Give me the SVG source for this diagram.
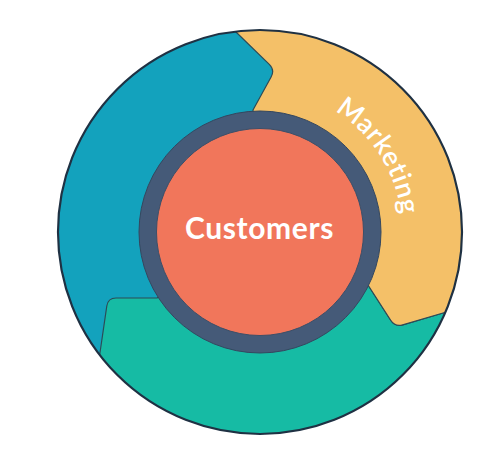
<svg xmlns="http://www.w3.org/2000/svg" width="500" height="460" viewBox="0 0 500 460">
  <style>
    .seg { stroke: #2d4b57; stroke-width: 1.2; stroke-linejoin: round; }
    .lbl { font-family: Lato, "Open Sans", "Liberation Sans", sans-serif; fill: #ffffff; }
  </style>
  <defs>
    <clipPath id="outerClip">
      <circle cx="260" cy="232" r="202"/>
    </clipPath>
    <path id="mkArc" d="M308.6,98.6 A141,141 0 0 1 401.5,243.6" fill="none"/>
  </defs>
  <rect x="0" y="0" width="500" height="460" fill="#ffffff"/>
  <g id="wheel" clip-path="url(#outerClip)">
    <g id="blue-segment">
      <circle cx="260" cy="232" r="202" fill="#13a2bd"/>
    </g>
    <g id="green-segment">
      <path class="seg" fill="#16bba4" d="M96,380 L106.8,306 Q108,298 116,298 L157,298 L260,232 L368,285 L390.7,320.3 Q395,327 402.7,324.8 L443,313 L480,302 L500,460 L0,460 Z"/>
    </g>
    <g id="yellow-segment">
      <path class="seg" fill="#f4c068" d="M217,14 L500,-10 L500,300 L480,302 L443,313 L402.7,324.8 Q395,327 390.7,320.3 L368,285 L260,232 L253,110 L271.1,77 Q275,70 269.3,64.4 L237,33 Z"/>
      <text class="lbl" font-size="27" font-weight="600" letter-spacing="0.6"><textPath href="#mkArc" startOffset="50%" text-anchor="middle">Marketing</textPath></text>
    </g>
  </g>
  <g id="outer-ring">
    <circle cx="260" cy="232" r="202" fill="none" stroke="#1f3143" stroke-width="2.2"/>
  </g>
  <g id="customers">
    <circle cx="260" cy="232" r="121" fill="#455a78" stroke="#34475f" stroke-width="1"/>
    <circle cx="260" cy="232" r="103.5" fill="#f1765b" stroke="#3d4f68" stroke-width="1"/>
    <text class="lbl" x="259.5" y="238.5" font-size="30" font-weight="700" letter-spacing="0.6" text-anchor="middle">Customers</text>
  </g>
</svg>
